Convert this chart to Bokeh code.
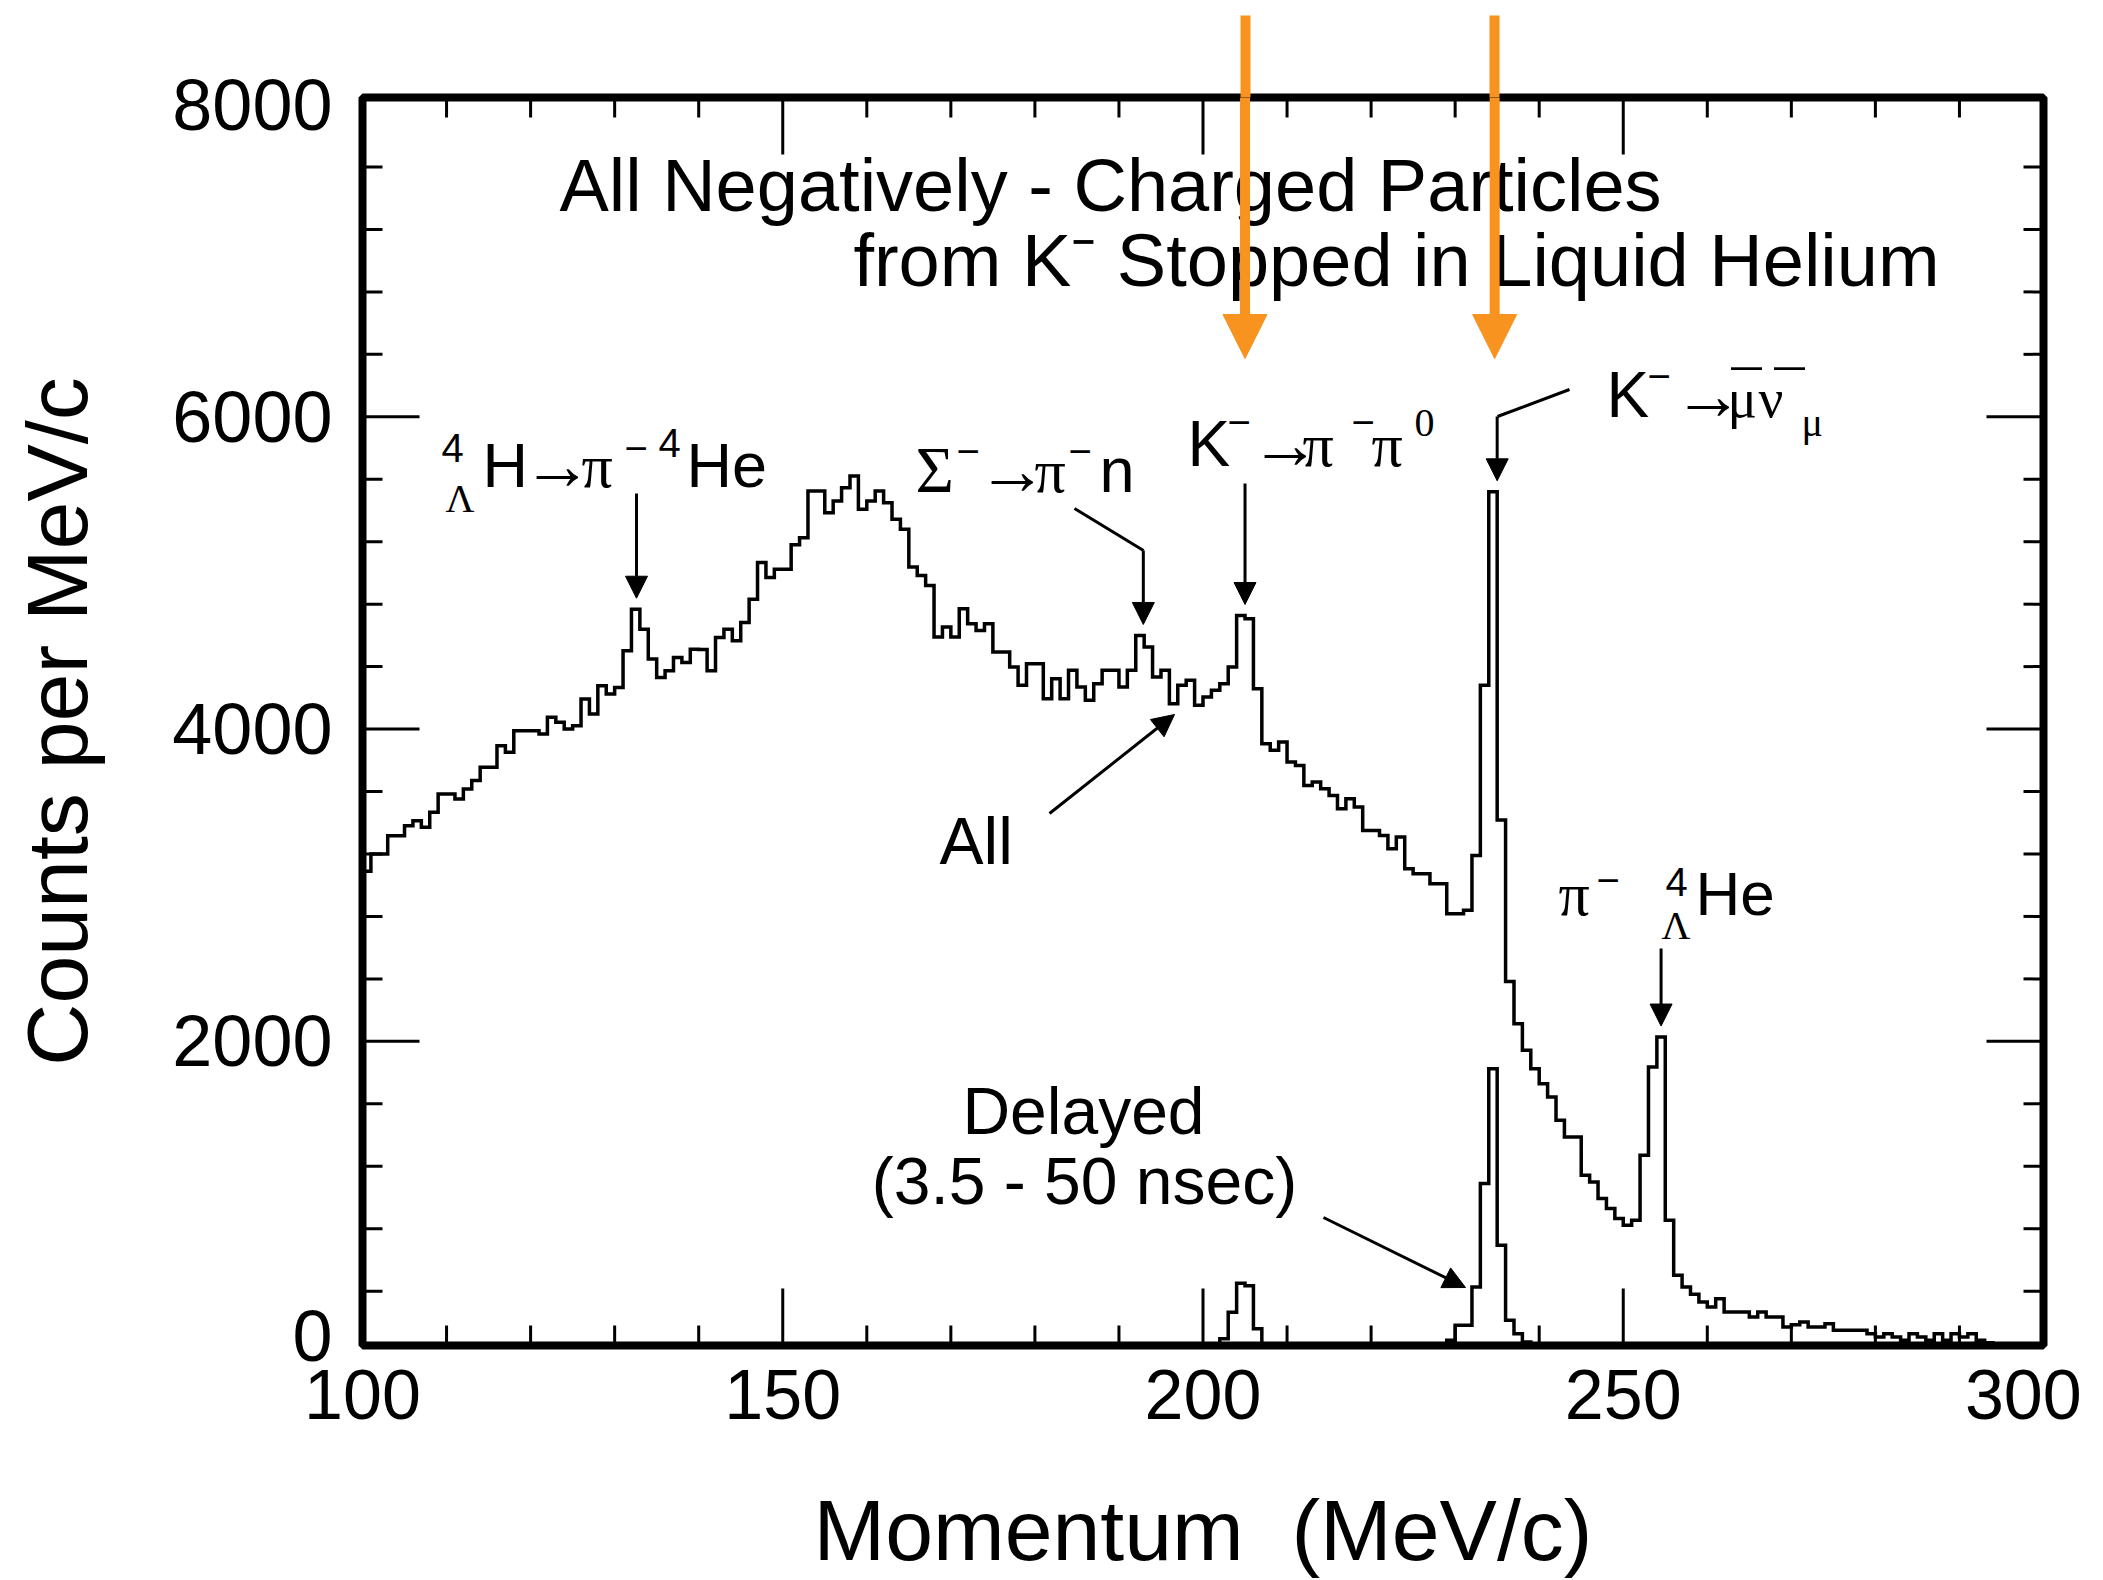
import math
from bokeh.plotting import figure
from bokeh.models import Range1d, FixedTicker, LinearAxis, Label, Arrow, NormalHead
from bokeh.embed import file_html
from bokeh.resources import INLINE

# ---------------- data ----------------
bin_start = 100          # MeV/c, left edge of first bin
bin_width = 1            # MeV/c
# all negatively-charged particles, counts per MeV/c, bins 100..295
all_counts = [
    3090, 3200, 3200, 3317, 3317, 3381, 3413, 3371, 3467, 3584,
    3584, 3552, 3616, 3670, 3755, 3755, 3893, 3851, 3989, 3989,
    3989, 3968, 4075, 4043, 4000, 4021, 4192, 4096, 4277, 4224,
    4267, 4501, 4768, 4640, 4448, 4331, 4373, 4459, 4427, 4512,
    4510, 4373, 4587, 4640, 4565, 4683, 4832, 5067, 4971, 5024,
    5024, 5180, 5226, 5525, 5525, 5386, 5461, 5546, 5621, 5408,
    5461, 5525, 5450, 5344, 5280, 5038, 4984, 4920, 4589, 4653,
    4589, 4771, 4675, 4632, 4675, 4493, 4493, 4397, 4280, 4419,
    4419, 4194, 4322, 4194, 4376, 4269, 4184, 4291, 4376, 4376,
    4269, 4376, 4600, 4525, 4333, 4376, 4162, 4280, 4312, 4152,
    4205, 4248, 4291, 4397, 4728, 4707, 4258, 3906, 3864, 3917,
    3789, 3767, 3639, 3661, 3618, 3575, 3490, 3554, 3501, 3351,
    3351, 3319, 3234, 3308, 3106, 3074, 3074, 3010, 3010, 2817,
    2817, 2839, 3191, 4281, 5520, 3417, 2384, 2113, 1943, 1825,
    1729, 1644, 1494, 1388, 1388, 1142, 1099, 993, 929, 865,
    822, 854, 1270, 1836, 2028, 854, 502, 427, 380, 330,
    299, 352, 267, 267, 267, 235, 267, 235, 235, 171,
    185, 203, 171, 171, 192, 149, 149, 149, 149, 128,
    107, 128, 107, 85, 128, 107, 85, 128, 85, 128,
    107, 128, 85, 70, 55, 50,
]
# delayed (3.5 - 50 nsec) events, bins 199..240
delayed_start = 199
delayed_counts = [
    0, 0, 0, 96, 265, 451, 435, 160, 60,
    0, 0, 0, 0, 0, 0, 0, 0, 0, 0, 0, 0, 0, 0, 0, 0, 0, 0, 0, 0, 0,
    85, 181, 181, 427, 1089, 1825, 694, 213, 128, 75, 0, 0,
]

x_tick_labels = [100, 150, 200, 250, 300]
x_major_marks = [150, 200, 250]
x_minor_marks = [110, 120, 130, 140, 160, 170, 180, 190, 210, 220, 230, 240,
                 260, 270, 280, 290]
y_tick_labels = [0, 2000, 4000, 6000, 8000]
y_major_marks = [2000, 4000, 6000]
y_minor_marks = [400, 800, 1200, 1600, 2400, 2800, 3200, 3600, 4400, 4800,
                 5200, 5600, 6400, 6800, 7200, 7600]

# momenta of the labelled lines (MeV/c)
line_4H = 132.6
line_sigma = 192.9
line_kpipi = 205.0
line_kmunu = 235.0
line_4LHe = 254.5
orange_marks = [205.0, 234.7]

# ---------------- layout ----------------
W, H = 2103, 1580
FL, FR, FT, FB = 362, 2043, 97, 1345      # frame edges in page pixels
X0, X1 = 100.0, 300.0
Y0, Y1 = 52.0, 8045.0
PPX = (FR - FL) / (X1 - X0)
PPY = (FB - FT) / (Y1 - Y0)

SANS = "Liberation Sans"
SERIF = "Liberation Serif"
ORANGE = "#F7931E"


def X(px):
    return X0 + (px - FL) / PPX


def Y(py):
    return Y0 + (FB - py) / PPY


p = figure(width=W, height=H, output_backend="svg", toolbar_location=None,
           x_range=Range1d(X0, X1), y_range=Range1d(Y0, Y1),
           x_axis_type=None, y_axis_type=None,
           min_border_left=FL, min_border_right=W - FR,
           min_border_top=FT, min_border_bottom=H - FB)
p.outline_line_color = "black"
p.outline_line_width = 8
p.background_fill_color = "white"
p.border_fill_color = "white"

zero_label_pos = 110    # the "0" label sits just above the frame bottom
last_label_pos = 297.6  # the "300" label is pulled in from the right edge


def label_axis(ax, size):
    ax.axis_line_color = None
    ax.major_tick_line_color = None
    ax.minor_tick_line_color = None
    ax.major_tick_in = 0
    ax.major_tick_out = 0
    ax.minor_tick_in = 0
    ax.minor_tick_out = 0
    ax.major_label_text_font = SANS
    ax.major_label_text_font_size = size
    ax.major_label_text_color = "black"
    ax.axis_label_text_font = SANS
    ax.axis_label_text_font_size = "86px"
    ax.axis_label_text_font_style = "normal"
    ax.axis_label_text_color = "black"


bx = LinearAxis(ticker=FixedTicker(ticks=x_tick_labels[:-1] + [last_label_pos], minor_ticks=[]),
                major_label_overrides={last_label_pos: str(x_tick_labels[-1])},
                axis_label="Momentum \u00a0(MeV/c)")
label_axis(bx, "70px")
bx.major_label_standoff = 24
bx.axis_label_standoff = 60
ly = LinearAxis(ticker=FixedTicker(ticks=[zero_label_pos] + y_tick_labels[1:], minor_ticks=[]),
                major_label_overrides={zero_label_pos: str(y_tick_labels[0])},
                axis_label="Counts per MeV/c")
label_axis(ly, "72px")
ly.major_label_standoff = 30
ly.axis_label_standoff = 64
p.add_layout(bx, "below")
p.add_layout(ly, "left")

# orange marker shafts above the frame, drawn as outward ticks of a top axis
ox = LinearAxis(ticker=FixedTicker(ticks=orange_marks, minor_ticks=[]))
ox.axis_line_color = None
ox.major_tick_in = 0
ox.major_tick_out = FT - 15
ox.major_tick_line_color = ORANGE
ox.major_tick_line_width = 10
ox.minor_tick_line_color = None
ox.minor_tick_in = 0
ox.minor_tick_out = 0
ox.major_label_text_color = None
ox.major_label_text_font_size = "1px"
ox.major_label_standoff = 0
p.add_layout(ox, "above")

# tick marks pointing into the frame on all four sides
MAJ, MIN = 57, 20
for xs, ln in ((x_major_marks, MAJ), (x_minor_marks, MIN)):
    n = len(xs)
    p.segment(x0=xs, y0=[Y0] * n, x1=xs, y1=[Y0 + ln / PPY] * n,
              line_width=3, line_color="black")
    p.segment(x0=xs, y0=[Y1] * n, x1=xs, y1=[Y1 - ln / PPY] * n,
              line_width=3, line_color="black")
for ys, ln in ((y_major_marks, MAJ), (y_minor_marks, MIN)):
    n = len(ys)
    p.segment(x0=[X0] * n, y0=ys, x1=[X0 + ln / PPX] * n, y1=ys,
              line_width=3, line_color="black")
    p.segment(x0=[X1] * n, y0=ys, x1=[X1 - ln / PPX] * n, y1=ys,
              line_width=3, line_color="black")

# ---------------- histograms ----------------
edges_all = [bin_start + i * bin_width for i in range(len(all_counts) + 1)]
p.step(edges_all, all_counts + [0], mode="after", line_width=3.5,
       line_color="black", line_join="miter")
edges_del = [delayed_start + i * bin_width for i in range(len(delayed_counts) + 1)]
p.step(edges_del, delayed_counts + [0], mode="after", line_width=3.5,
       line_color="black", line_join="miter")


def peak_near(m):
    i = int(m - bin_start)
    return max(all_counts[i - 1:i + 2])


# ---------------- texts ----------------
def txt(px, py, s, font=SANS, size=63, align="left"):
    # py is the intended baseline (page pixels)
    p.add_layout(Label(x=X(px), y=Y(py - 0.37 * size), text=s, text_font=font,
                       text_font_size=f"{size}px", text_align=align,
                       text_baseline="alphabetic", text_color="black"))


# title
txt(1110, 212, "All Negatively - Charged Particles", size=74, align="center")
txt(1396, 287, "from K\u207b Stopped in Liquid Helium", size=74, align="center")

ARW = 70   # size of the reaction arrows

# 4/Lambda H -> pi- 4He
txt(441, 462, "4", size=40)
txt(445, 513, "\u039b", SERIF, 40)
txt(482, 488, "H", size=63)
txt(522, 491, "\u2192", SERIF, ARW)
txt(581, 488, "\u03c0", SERIF, 62)
txt(624, 462, "\u2212", size=40)
txt(658, 457, "4", size=40)
txt(686, 488, "He", size=63)

# Sigma- -> pi- n
txt(915, 493, "\u03a3", SERIF, 66)
txt(956, 465, "\u2212", size=40)
txt(977, 496, "\u2192", SERIF, ARW)
txt(1034, 493, "\u03c0", SERIF, 62)
txt(1068, 465, "\u2212", size=40)
txt(1099, 493, "n", size=63)

# K- -> pi- pi0
txt(1187, 467, "K", size=64)
txt(1227, 436, "\u2212", size=40)
txt(1250, 470, "\u2192", SERIF, ARW)
txt(1302, 467, "\u03c0", SERIF, 62)
txt(1351, 436, "\u2212", size=40)
txt(1371, 467, "\u03c0", SERIF, 62)
txt(1414, 437, "0", SERIF, 40)

# K- -> mu-bar nu-bar_mu
txt(1606, 418, "K", size=64)
txt(1647, 390, "\u2212", size=40)
txt(1673, 421, "\u2192", SERIF, ARW)
txt(1727, 418, "\u03bc", SERIF, 55)
txt(1731, 414, "\u00af", SERIF, 60)
txt(1758, 418, "\u03bd", SERIF, 55)
txt(1774, 414, "\u00af", SERIF, 60)
txt(1801, 437, "\u03bc", SERIF, 40)

# pi- 4/Lambda He
txt(1558, 916, "\u03c0", SERIF, 62)
txt(1596, 894, "\u2212", size=40)
txt(1665, 896, "4", size=40)
txt(1661, 940, "\u039b", SERIF, 40)
txt(1695, 916, "He", size=62)

# All / Delayed
txt(939, 865, "All", size=66)
txt(1083, 1135, "Delayed", size=66, align="center")
txt(1084, 1205, "(3.5 - 50 nsec)", size=66, align="center")


# ---------------- arrows ----------------
def line(p0, p1):
    p.add_layout(Arrow(end=None, x_start=X(p0[0]), y_start=Y(p0[1]),
                       x_end=X(p1[0]), y_end=Y(p1[1]),
                       line_width=3, line_color="black"))


def arrow(x0, y0, x1, y1):
    head = NormalHead(size=22, fill_color="black", line_color="black", line_width=1)
    p.add_layout(Arrow(end=head, x_start=x0, y_start=y0, x_end=x1, y_end=y1,
                       line_width=3, line_color="black"))


gap = 70
arrow(line_4H, Y(493), line_4H, peak_near(line_4H) + gap)
line((1074, 508), (1143, 550))
arrow(line_sigma, Y(550), line_sigma, peak_near(line_sigma) + gap)
arrow(line_kpipi, Y(483), line_kpipi, peak_near(line_kpipi) + gap)
line((1569, 389), (1497, 416))
arrow(line_kmunu, Y(416), line_kmunu, peak_near(line_kmunu) + gap)
arrow(line_4LHe, Y(948), line_4LHe, peak_near(line_4LHe) + gap)
arrow(X(1049), Y(813), X(1174), Y(714))
arrow(X(1323), Y(1217), X(1465), Y(1287))

for xm in orange_marks:
    head = NormalHead(size=44, fill_color=ORANGE, line_color=ORANGE, line_width=1)
    p.add_layout(Arrow(end=head, x_start=xm, y_start=Y1, x_end=xm, y_end=Y(358),
                       line_width=10, line_color=ORANGE))

open("out.html", "w").write(file_html(p, INLINE))
